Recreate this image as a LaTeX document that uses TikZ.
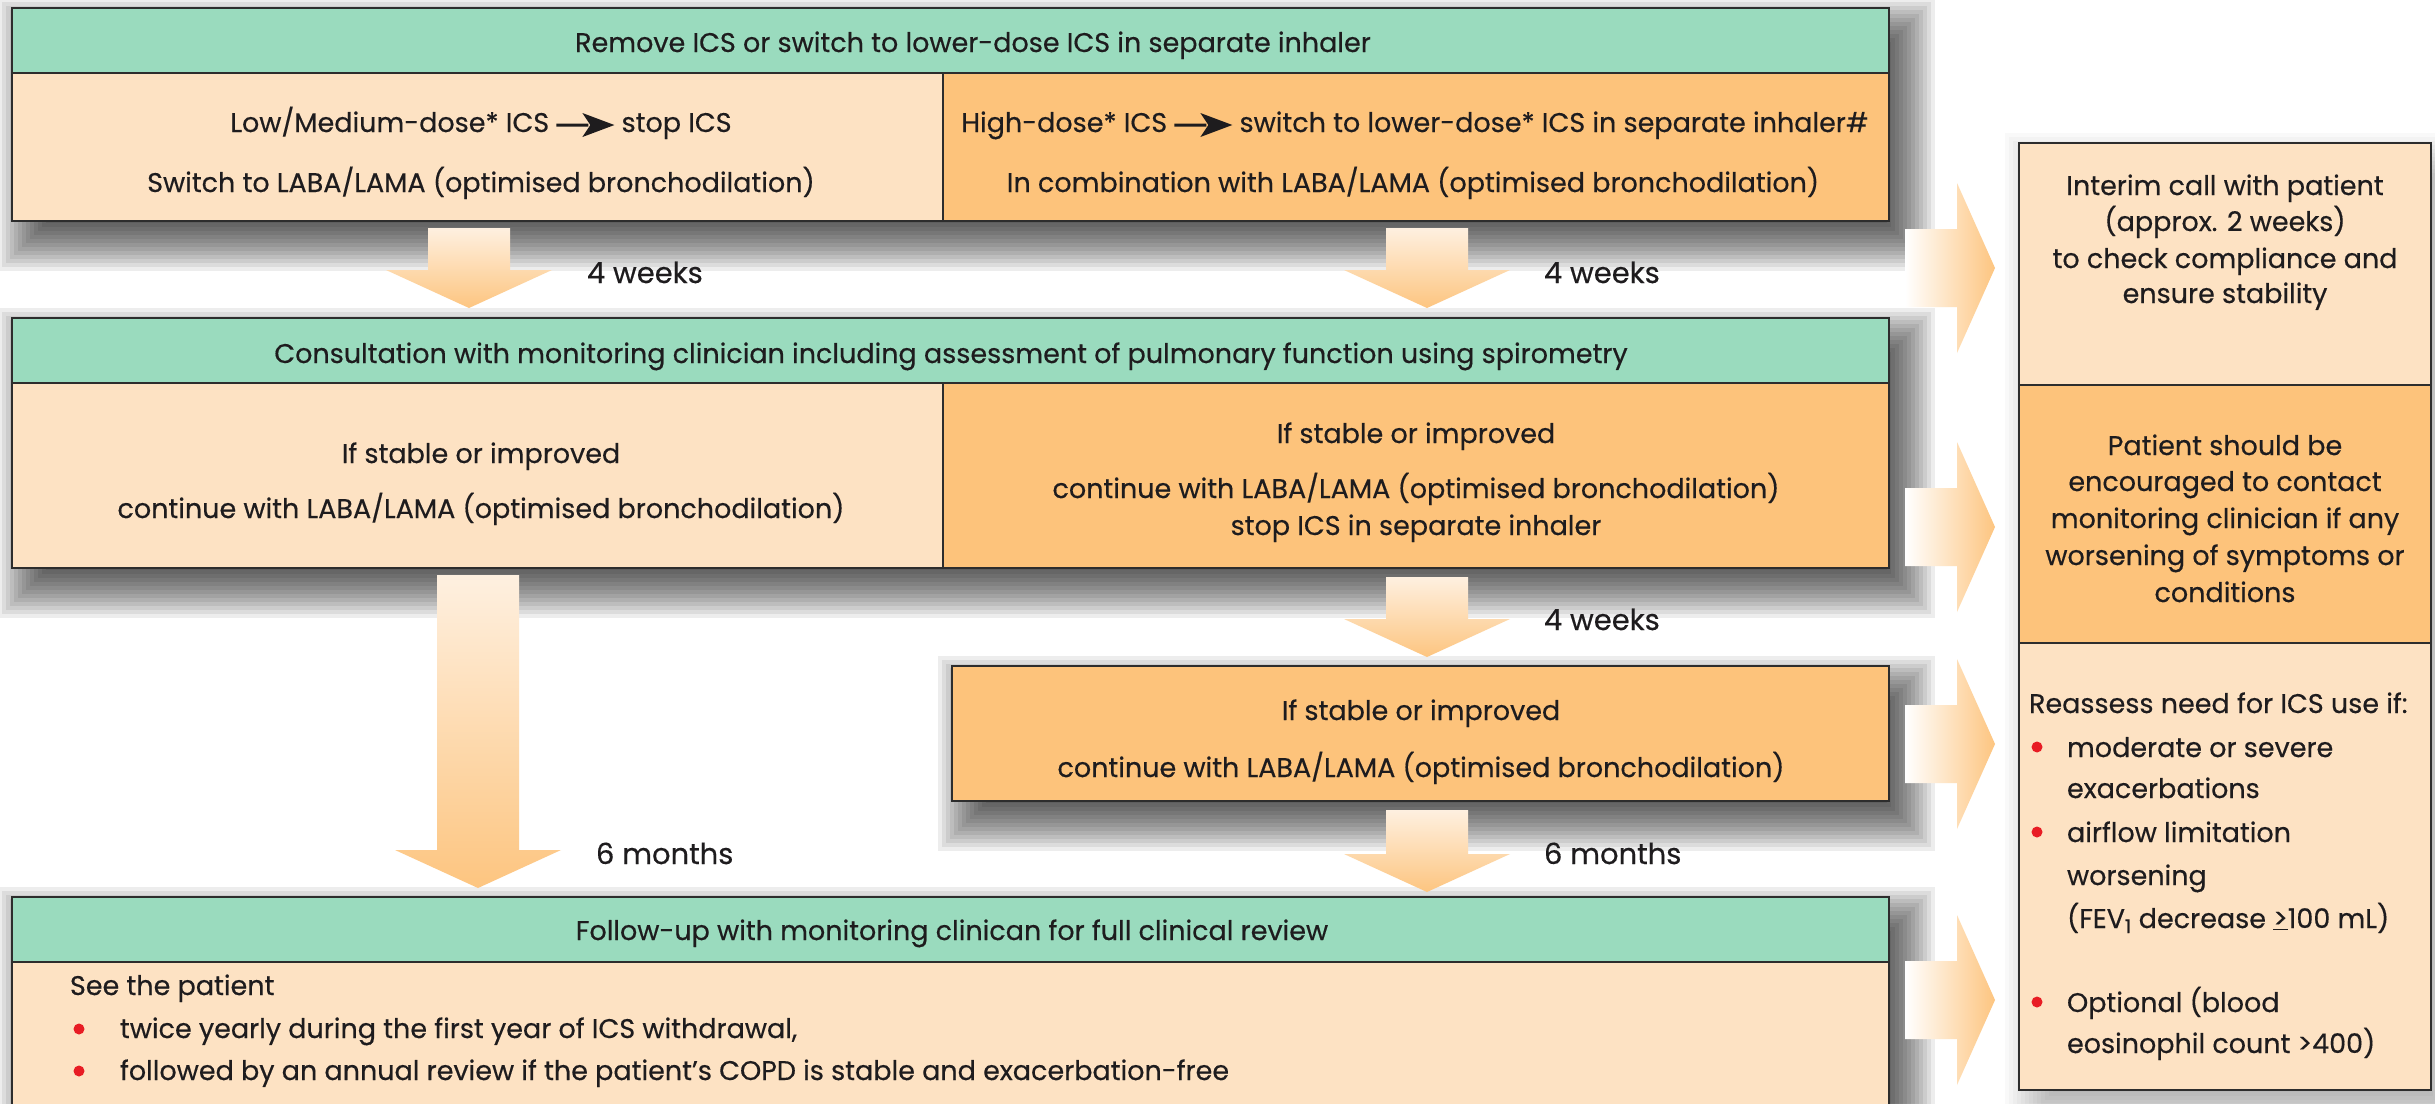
\documentclass[tikz,border=0pt]{standalone}
\usepackage{fontspec}
\setmainfont{Poppins}[FakeBold=0.4]
\usetikzlibrary{calc}

\definecolor{hdr}{RGB}{154,219,190}
\definecolor{lite}{RGB}{253,226,195}
\definecolor{org}{RGB}{253,195,123}
\definecolor{arro}{RGB}{253,197,128}
\definecolor{arrl}{RGB}{254,240,224}
\definecolor{ink}{RGB}{30,28,30}
\definecolor{bul}{RGB}{232,28,36}
\definecolor{edge}{RGB}{45,45,45}

\newcommand\fs{\fontsize{27}{33}\selectfont}
\newcommand\fl{\fontsize{29}{33}\selectfont}
\newcommand\harr{\tikz[baseline=0pt]\fill[ink] (0pt,5.5pt) rectangle (32pt,8.5pt) (26pt,-5pt) -- (58pt,7pt) -- (26pt,19pt) -- (34pt,7pt) -- cycle;}
\newcommand\softshadow[5]{%
  \foreach \i in {0,...,14}{
    \fill[black, opacity=#5] ({#1-14+4*\i},{#2-10+4*\i}) rectangle ({#3+46-4*\i},{#4+50-4*\i});
  }}
\newcommand\blockdown[2]{%
  \shade[top color=arrl, bottom color=arro] let \p1=(#1), \p2=(#2) in
    ({\x1-41pt},\y1) -- ({\x1+41pt},\y1) -- ({\x1+41pt},{\y2+38pt}) -- ({\x1+83pt},{\y2+38pt})
    -- (\x1,\y2) -- ({\x1-83pt},{\y2+38pt}) -- ({\x1-41pt},{\y2+38pt}) -- cycle;}
\newcommand\blockright[2]{%
  \shade[left color=white, right color=arro] let \p1=(#1), \p2=(#2) in
    (\x1,{\y1+39pt}) -- ({\x2-38pt},{\y1+39pt}) -- ({\x2-38pt},{\y1+85pt}) -- (\x2,\y1)
    -- ({\x2-38pt},{\y1-85pt}) -- ({\x2-38pt},{\y1-39pt}) -- (\x1,{\y1-39pt}) -- cycle;}

\begin{document}
\begin{tikzpicture}[x=1pt,y=-1pt,
  box/.style={draw=edge, line width=2.5pt, anchor=north west, inner sep=0pt, outer sep=0pt},
  tx/.style={font=\fs, text=ink, inner sep=0pt, outer sep=0pt, anchor=base},
  lbl/.style={tx, anchor=base west},
  dur/.style={tx, font=\fl, anchor=base west},
  dot/.style={fill=bul}
]
\useasboundingbox (0,0) rectangle (2435,1103);
\fill[white] (0,0) rectangle (2435,1103);

% shadows
\softshadow{12}{8}{1889}{221}{0.07}
\softshadow{12}{318}{1889}{568}{0.07}
\softshadow{952}{666}{1889}{801}{0.07}
\softshadow{12}{897}{1889}{1120}{0.07}
\softshadow{2019}{143}{2431}{1090}{0.025}

% boxes
\node[box, fill=hdr, minimum width=1877pt, minimum height=65pt] (h1) at (12,8) {};
\node[box, fill=lite, minimum width=931pt, minimum height=148pt] (b1L) at (12,73) {};
\node[box, fill=org, minimum width=946pt, minimum height=148pt] (b1R) at (943,73) {};
\node[box, fill=hdr, minimum width=1877pt, minimum height=65pt] (h2) at (12,318) {};
\node[box, fill=lite, minimum width=931pt, minimum height=185pt] (b2L) at (12,383) {};
\node[box, fill=org, minimum width=946pt, minimum height=185pt] (b2R) at (943,383) {};
\node[box, fill=org, minimum width=937pt, minimum height=135pt] (b3R) at (952,666) {};
\node[box, fill=hdr, minimum width=1877pt, minimum height=65pt] (h3) at (12,897) {};
\node[box, fill=lite, minimum width=1877pt, minimum height=170pt] (b4) at (12,962) {};
\node[box, fill=lite, minimum width=412pt, minimum height=242pt] (rc1) at (2019,143) {};
\node[box, fill=org, minimum width=412pt, minimum height=258pt] (rc2) at (2019,385) {};
\node[box, fill=lite, minimum width=412pt, minimum height=447pt] (rc3) at (2019,643) {};

% down arrows
\coordinate (cL) at (469,0);
\coordinate (cR) at (1427,0);
\coordinate (cLL) at (478,0);
\coordinate (a1s) at ($(b1L.south -| cL)+(0,7)$);
\coordinate (a1e) at ($(h2.north -| cL)+(0,-10)$);
\coordinate (a2s) at ($(b1R.south -| cR)+(0,7)$);
\coordinate (a2e) at ($(h2.north -| cR)+(0,-10)$);
\coordinate (a3s) at ($(b2R.south -| cR)+(0,9)$);
\coordinate (a3e) at ($(b3R.north -| cR)+(0,-9)$);
\coordinate (a4s) at ($(b3R.south -| cR)+(0,9)$);
\coordinate (a4e) at ($(h3.north -| cR)+(0,-5)$);
\coordinate (a5s) at ($(b2L.south -| cLL)+(0,7)$);
\coordinate (a5e) at ($(h3.north -| cLL)+(0,-9)$);
\blockdown{a1s}{a1e}
\blockdown{a2s}{a2e}
\blockdown{a3s}{a3e}
\blockdown{a4s}{a4e}
\blockdown{a5s}{a5e}

% right arrows
\coordinate (r1s) at (1905,268);
\coordinate (r2s) at (1905,527);
\coordinate (r3s) at (1905,744);
\coordinate (r4s) at (1905,1000);
\coordinate (r1e) at ($(rc1.west |- r1s)+(-24,0)$);
\coordinate (r2e) at ($(rc1.west |- r2s)+(-24,0)$);
\coordinate (r3e) at ($(rc1.west |- r3s)+(-24,0)$);
\coordinate (r4e) at ($(rc1.west |- r4s)+(-24,0)$);
\blockright{r1s}{r1e}
\blockright{r2s}{r2e}
\blockright{r3s}{r3e}
\blockright{r4s}{r4e}

% texts row 1
\node[tx] (t1) at (973,52) {Remove ICS or switch to lower-dose ICS in separate inhaler};
\node[tx] (t1a) at (481,132) {Low/Medium-dose* ICS~\harr~stop ICS};
\node[tx] (t1b) at (481,192) {Switch to LABA/LAMA (optimised bronchodilation)};
\node[tx] (t1c) at (1415,132) {High-dose* ICS~\harr~switch to lower-dose* ICS in separate inhaler\#};
\node[tx] (t1d) at (1413,192) {In combination with LABA/LAMA (optimised bronchodilation)};
\node[dur] (w1) at (587,283) {4 weeks};
\node[dur] (w2) at (1544,283) {4 weeks};

% texts row 2
\node[tx] (t2) at (951,363) {Consultation with monitoring clinician including assessment of pulmonary function using spirometry};
\node[tx] (t2a) at (481,463) {If stable or improved};
\node[tx] (t2b) at (481,518) {continue with LABA/LAMA (optimised bronchodilation)};
\node[tx] (t2c) at (1416,443) {If stable or improved};
\node[tx] (t2d) at (1416,498) {continue with LABA/LAMA (optimised bronchodilation)};
\node[tx] (t2e) at (1416,535) {stop ICS in separate inhaler};
\node[dur] (w3) at (1544,630) {4 weeks};
\node[tx] (t3a) at (1421,720) {If stable or improved};
\node[tx] (t3b) at (1421,777) {continue with LABA/LAMA (optimised bronchodilation)};
\node[dur] (m1) at (596,864) {6 months};
\node[dur] (m2) at (1544,864) {6 months};

% bottom
\node[tx] (t4) at (952,940) {Follow-up with monitoring clinican for full clinical review};
\node[lbl] (t4a) at (70,995) {See the patient};
\node[lbl] (t4b) at (120,1038) {twice yearly during the first year of ICS withdrawal,};
\node[lbl] (t4c) at (120,1080) {followed by an annual review if the patient’s COPD is stable and exacerbation-free};
\fill[dot] (79,1029) circle (5.5);
\fill[dot] (79,1071) circle (5.5);

% right column
\node[tx] (r1a) at (2225,195) {Interim call with patient};
\node[tx] (r1b) at (2225,231) {(approx. 2 weeks)};
\node[tx] (r1c) at (2225,268) {to check compliance and};
\node[tx] (r1d) at (2225,303) {ensure stability};
\node[tx] (r2a) at (2225,455) {Patient should be};
\node[tx] (r2b) at (2225,491) {encouraged to contact};
\node[tx] (r2c) at (2225,528) {monitoring clinician if any};
\node[tx] (r2d) at (2225,565) {worsening of symptoms or};
\node[tx] (r2e) at (2225,602) {conditions};
\node[lbl] (r3a) at (2029,713) {Reassess need for ICS use if:};
\node[lbl] (r3b) at (2067,757) {moderate or severe};
\node[lbl] (r3c) at (2067,798) {exacerbations};
\node[lbl] (r3d) at (2067,842) {airflow limitation};
\node[lbl] (r3e) at (2067,885) {worsening};
\node[lbl] (r3f) at (2067,928) {(FEV\textsubscript{1} decrease \underline{>}100 mL)};
\node[lbl] (r3g) at (2067,1012) {Optional (blood};
\node[lbl] (r3h) at (2067,1053) {eosinophil count >400)};
\fill[dot] (2037,747) circle (5.5);
\fill[dot] (2037,832) circle (5.5);
\fill[dot] (2037,1002) circle (5.5);
\end{tikzpicture}
\end{document}
